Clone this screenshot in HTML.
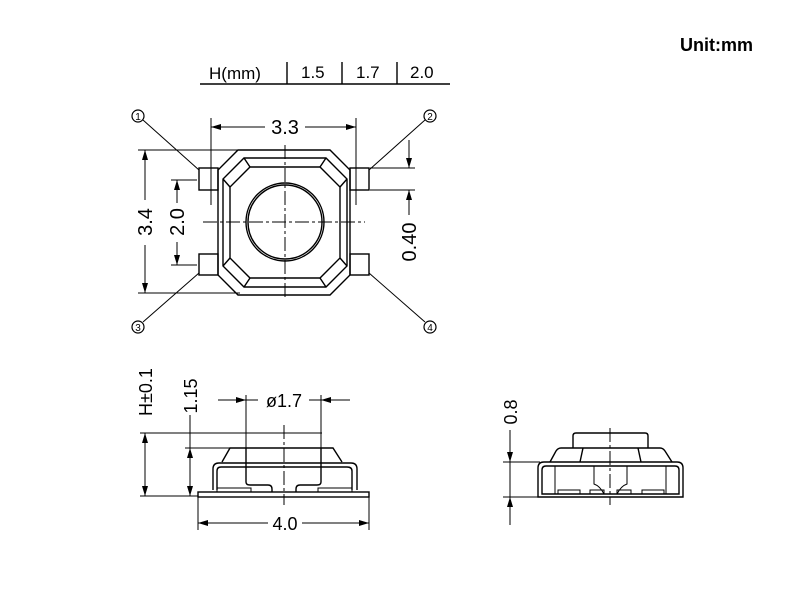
<!DOCTYPE html>
<html><head><meta charset="utf-8"><style>
html,body{margin:0;padding:0;background:#fff;}
svg{display:block;font-family:"Liberation Sans",sans-serif;}
text{fill:#000;}
</style></head><body>
<svg width="800" height="600" viewBox="0 0 800 600" xmlns="http://www.w3.org/2000/svg">
<defs>
<marker id="a" viewBox="0 0 10 6" refX="10" refY="3" markerWidth="10" markerHeight="6" orient="auto-start-reverse" markerUnits="userSpaceOnUse"><path d="M0,0 L10,3 L0,6 z" fill="#000"/></marker>
</defs>
<g stroke="#000" fill="none" stroke-width="1.4">
<!-- header -->
<line x1="200" y1="84" x2="450" y2="84"/>
<line x1="287" y1="62" x2="287" y2="84"/><line x1="342" y1="62" x2="342" y2="84"/><line x1="397" y1="62" x2="397" y2="84"/>

<!-- TOP VIEW -->
<polygon points="238,150 330,150 350,170 350,275 330,295 238,295 218,275 218,170"/>
<polygon points="244,158 326,158 347,179 347,266 326,287 244,287 223,266 223,179"/>
<polygon points="250,167 320,167 340,187 340,258 320,278 250,278 230,258 230,187"/>
<line x1="244" y1="158" x2="250" y2="167"/><line x1="326" y1="158" x2="320" y2="167"/>
<line x1="347" y1="179" x2="340" y2="187"/><line x1="347" y1="266" x2="340" y2="258"/>
<line x1="326" y1="287" x2="320" y2="278"/><line x1="244" y1="287" x2="250" y2="278"/>
<line x1="223" y1="266" x2="230" y2="258"/><line x1="223" y1="179" x2="230" y2="187"/>
<circle cx="285" cy="222" r="39"/><circle cx="285" cy="222" r="37"/>
<rect x="199" y="168" width="19" height="22"/><rect x="199" y="254" width="19" height="21"/>
<rect x="350" y="168" width="19" height="22"/><rect x="350" y="254" width="19" height="21"/>
<line x1="285" y1="145" x2="285" y2="300" stroke-width="1" stroke-dasharray="14,3,3,3"/>
<line x1="203" y1="222" x2="365" y2="222" stroke-width="1" stroke-dasharray="14,3,3,3"/>
<!-- 3.3 -->
<line x1="211" y1="118" x2="211" y2="205" stroke-width="1"/><line x1="356" y1="118" x2="356" y2="205" stroke-width="1"/>
<line x1="211" y1="127" x2="265" y2="127" stroke-width="1" marker-start="url(#a)"/>
<line x1="305" y1="127" x2="356" y2="127" stroke-width="1" marker-end="url(#a)"/>
<!-- 3.4 -->
<line x1="138" y1="150" x2="240" y2="150" stroke-width="1"/><line x1="138" y1="293" x2="240" y2="293" stroke-width="1"/>
<line x1="145" y1="150" x2="145" y2="200" stroke-width="1" marker-start="url(#a)"/>
<line x1="145" y1="245" x2="145" y2="293" stroke-width="1" marker-end="url(#a)"/>
<!-- 2.0 -->
<line x1="171" y1="180" x2="197" y2="180" stroke-width="1"/><line x1="171" y1="265" x2="197" y2="265" stroke-width="1"/>
<line x1="177" y1="180" x2="177" y2="203" stroke-width="1" marker-start="url(#a)"/>
<line x1="177" y1="242" x2="177" y2="265" stroke-width="1" marker-end="url(#a)"/>
<!-- 0.40 -->
<line x1="370" y1="168" x2="415" y2="168" stroke-width="1"/><line x1="370" y1="190" x2="415" y2="190" stroke-width="1"/>
<line x1="409" y1="140" x2="409" y2="168" stroke-width="1" marker-end="url(#a)"/>
<line x1="409" y1="215" x2="409" y2="190" stroke-width="1" marker-end="url(#a)"/>
<!-- balloons -->
<circle cx="138" cy="116" r="6" stroke-width="1.2"/><circle cx="430" cy="116" r="6" stroke-width="1.2"/>
<circle cx="138" cy="327" r="6" stroke-width="1.2"/><circle cx="430" cy="327" r="6" stroke-width="1.2"/>
<line x1="143" y1="120" x2="199" y2="170" stroke-width="1"/>
<line x1="425" y1="120" x2="369" y2="170" stroke-width="1"/>
<line x1="143" y1="322" x2="199" y2="273" stroke-width="1"/>
<line x1="425" y1="322" x2="369" y2="273" stroke-width="1"/>

<!-- SIDE VIEW 1 -->
<rect x="198" y="492" width="171" height="5"/>
<path d="M222,462 L230,448 L333,448 L342,462"/>
<path d="M213,490 L213,469 Q213,463 219,463 L351,463 Q357,463 357,469 L357,490"/>
<path d="M217,490 L217,471 Q217,467 221,467 L347,467 Q352,467 352,471 L352,490"/>
<path d="M246,448 L246,482 Q246,485 250,485 L268,485 Q272,485 272,489 L272,492"/>
<path d="M321,448 L321,482 Q321,485 317,485 L300,485 Q296,485 296,489 L296,492"/>
<rect x="217" y="488" width="34" height="4" stroke-width="1"/><rect x="318" y="488" width="34" height="4" stroke-width="1"/>
<line x1="284" y1="425" x2="284" y2="505" stroke-width="1" stroke-dasharray="14,3,3,3"/>
<line x1="140" y1="433" x2="322" y2="433" stroke-width="1"/>
<line x1="140" y1="496" x2="198" y2="496" stroke-width="1"/>
<line x1="145" y1="433" x2="145" y2="496" stroke-width="1" marker-start="url(#a)" marker-end="url(#a)"/>
<line x1="185" y1="448" x2="230" y2="448" stroke-width="1"/>
<line x1="190" y1="448" x2="190" y2="496" stroke-width="1" marker-start="url(#a)" marker-end="url(#a)"/>
<line x1="190" y1="415" x2="190" y2="448" stroke-width="1"/>
<line x1="246" y1="395" x2="246" y2="448" stroke-width="1"/><line x1="321" y1="395" x2="321" y2="448" stroke-width="1"/>
<line x1="218" y1="400" x2="246" y2="400" stroke-width="1" marker-end="url(#a)"/>
<line x1="350" y1="400" x2="321" y2="400" stroke-width="1" marker-end="url(#a)"/>
<line x1="246" y1="400" x2="258" y2="400" stroke-width="1"/><line x1="309" y1="400" x2="321" y2="400" stroke-width="1"/>
<line x1="198" y1="497" x2="198" y2="530" stroke-width="1"/><line x1="369" y1="497" x2="369" y2="530" stroke-width="1"/>
<line x1="198" y1="523" x2="268" y2="523" stroke-width="1" marker-start="url(#a)"/>
<line x1="302" y1="523" x2="369" y2="523" stroke-width="1" marker-end="url(#a)"/>

<!-- SIDE VIEW 2 -->
<path d="M573,448 L573,436 Q573,433 576,433 L645,433 Q648,433 648,436 L648,448"/>
<path d="M550,462 L556,451 Q558,448 561,448 L660,448 Q663,448 665,451 L672,462"/>
<path d="M538,497 L538,468 Q538,462 544,462 L677,462 Q683,462 683,468 L683,497 Z"/>
<path d="M542,494 L542,470 Q542,466 546,466 L675,466 Q679,466 679,470 L679,494 Z"/>
<line x1="583" y1="448" x2="580" y2="462"/><line x1="638" y1="448" x2="641" y2="462"/>
<line x1="555" y1="466" x2="555" y2="494" stroke-width="1"/><line x1="666" y1="466" x2="666" y2="494" stroke-width="1"/>
<path d="M594,466 L594,484 Q600,486 604,494" stroke-width="1"/>
<path d="M627,466 L627,484 Q621,486 617,494" stroke-width="1"/>
<rect x="558" y="490" width="22" height="4" stroke-width="1"/><rect x="590" y="490" width="14" height="4" stroke-width="1"/>
<rect x="617" y="490" width="14" height="4" stroke-width="1"/><rect x="642" y="490" width="22" height="4" stroke-width="1"/>
<line x1="610" y1="428" x2="610" y2="505" stroke-width="1" stroke-dasharray="14,3,3,3"/>
<line x1="503" y1="462" x2="540" y2="462" stroke-width="1"/><line x1="503" y1="497" x2="538" y2="497" stroke-width="1"/>
<line x1="510" y1="430" x2="510" y2="462" stroke-width="1" marker-end="url(#a)"/>
<line x1="510" y1="525" x2="510" y2="497" stroke-width="1" marker-end="url(#a)"/>
<line x1="510" y1="462" x2="510" y2="497" stroke-width="1"/>
</g>

<g font-size="17">
<text x="680" y="51" font-size="18" font-weight="bold">Unit:mm</text>
<text x="209" y="79">H(mm)</text>
<text x="301" y="78">1.5</text>
<text x="356" y="78">1.7</text>
<text x="410" y="78">2.0</text>
<text x="285" y="134" text-anchor="middle" font-size="20">3.3</text>
<text transform="translate(152,222) rotate(-90)" text-anchor="middle" font-size="20">3.4</text>
<text transform="translate(184,222) rotate(-90)" text-anchor="middle" font-size="20">2.0</text>
<text transform="translate(416,242) rotate(-90)" text-anchor="middle" font-size="20">0.40</text>
<text x="138" y="120" text-anchor="middle" font-size="10">1</text>
<text x="430" y="120" text-anchor="middle" font-size="10">2</text>
<text x="138" y="331" text-anchor="middle" font-size="10">3</text>
<text x="430" y="331" text-anchor="middle" font-size="10">4</text>
<text transform="translate(152,392) rotate(-90)" text-anchor="middle" font-size="18">H±0.1</text>
<text transform="translate(197,396) rotate(-90)" text-anchor="middle" font-size="18">1.15</text>
<text x="284" y="407" text-anchor="middle" font-size="18">ø1.7</text>
<text x="285" y="530" text-anchor="middle" font-size="18">4.0</text>
<text transform="translate(517,412) rotate(-90)" text-anchor="middle" font-size="18">0.8</text>
</g>
</svg>
</body></html>
